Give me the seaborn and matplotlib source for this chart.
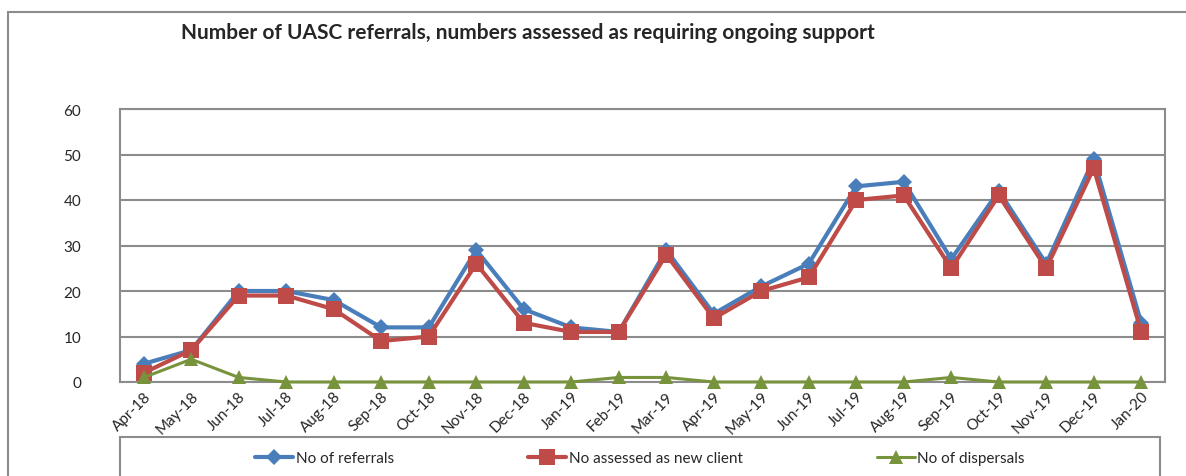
import pandas as pd
import numpy as np
import seaborn as sns
import matplotlib.pyplot as plt
from matplotlib.patches import Rectangle

# UASC referrals per month
months = ["Apr-18", "May-18", "Jun-18", "Jul-18", "Aug-18", "Sep-18", "Oct-18",
          "Nov-18", "Dec-18", "Jan-19", "Feb-19", "Mar-19", "Apr-19", "May-19",
          "Jun-19", "Jul-19", "Aug-19", "Sep-19", "Oct-19", "Nov-19", "Dec-19", "Jan-20"]
referrals = [4, 7, 20, 20, 18, 12, 12, 29, 16, 12, 11, 29, 15, 21, 26, 43, 44, 27, 42, 26, 49, 13]
assessed = [2, 7, 19, 19, 16, 9, 10, 26, 13, 11, 11, 28, 14, 20, 23, 40, 41, 25, 41, 25, 47, 11]
dispersals = [1, 5, 1, 0, 0, 0, 0, 0, 0, 0, 1, 1, 0, 0, 0, 0, 0, 1, 0, 0, 0, 0]

df = pd.DataFrame({"Month": months, "referrals": referrals,
                   "assessed": assessed, "dispersals": dispersals})

sns.set_style("white")
plt.rcParams["font.family"] = ["Lato", "DejaVu Sans"]

fig = plt.figure(figsize=(11.86, 4.77), dpi=100)
ax = fig.add_axes([120 / 1186, 1 - 383 / 477, 1045 / 1186, 273 / 477])

sns.lineplot(data=df, x="Month", y="referrals", color="#4A7EBB", linewidth=3,
             marker="D", markersize=8, markeredgewidth=0, label="No of referrals", ax=ax)
sns.lineplot(data=df, x="Month", y="assessed", color="#BE4B48", linewidth=3,
             marker="s", markersize=11, markeredgewidth=0, label="No assessed as new client", ax=ax)
sns.lineplot(data=df, x="Month", y="dispersals", color="#77933C", linewidth=2.2,
             marker="^", markersize=10, markeredgewidth=0, label="No of dispersals", ax=ax)
for ln in ax.lines:
    ln.set_clip_on(False)
    ln.set_zorder(4)

ax.set_xlim(-0.5, len(months) - 0.5)
ax.set_ylim(0, 60)
ax.set_yticks(range(0, 61, 10))
ax.yaxis.grid(True, color="#8C8C8C", linewidth=1.5)
ax.set_axisbelow(True)
for s in ax.spines.values():
    s.set_color("#8C8C8C")
    s.set_linewidth(1.5)
ax.set_xlabel("")
ax.set_ylabel("")
ax.tick_params(axis="y", length=0, pad=28, labelsize=11)
ax.tick_params(axis="x", length=0, pad=5, labelsize=11)
plt.setp(ax.get_xticklabels(), rotation=45, ha="right", rotation_mode="anchor")

handles, labels = ax.get_legend_handles_labels()
ax.get_legend().remove()
fig.legend(handles, labels, ncol=3, loc="center", bbox_to_anchor=(640 / 1186, 1 - 459 / 477),
           frameon=False, fontsize=11, handlelength=2.5, columnspacing=8.8, handletextpad=0.15)

# legend box and outer chart frame
fig.add_artist(Rectangle((120 / 1186, -0.2), 1040 / 1186, 0.2 + (477 - 438) / 477,
                         transform=fig.transFigure, fill=False, edgecolor="#8C8C8C", linewidth=1.5))
fig.add_artist(Rectangle((8 / 1186, -0.2), 1.2, 0.2 + (477 - 13) / 477,
                         transform=fig.transFigure, fill=False, edgecolor="#8C8C8C", linewidth=1.5))

fig.text(528 / 1186, 1 - 33 / 477, "Number of UASC referrals, numbers assessed as requiring ongoing support",
         ha="center", va="center", fontsize=15, fontweight="bold")

fig.savefig("out.png", dpi=100)
